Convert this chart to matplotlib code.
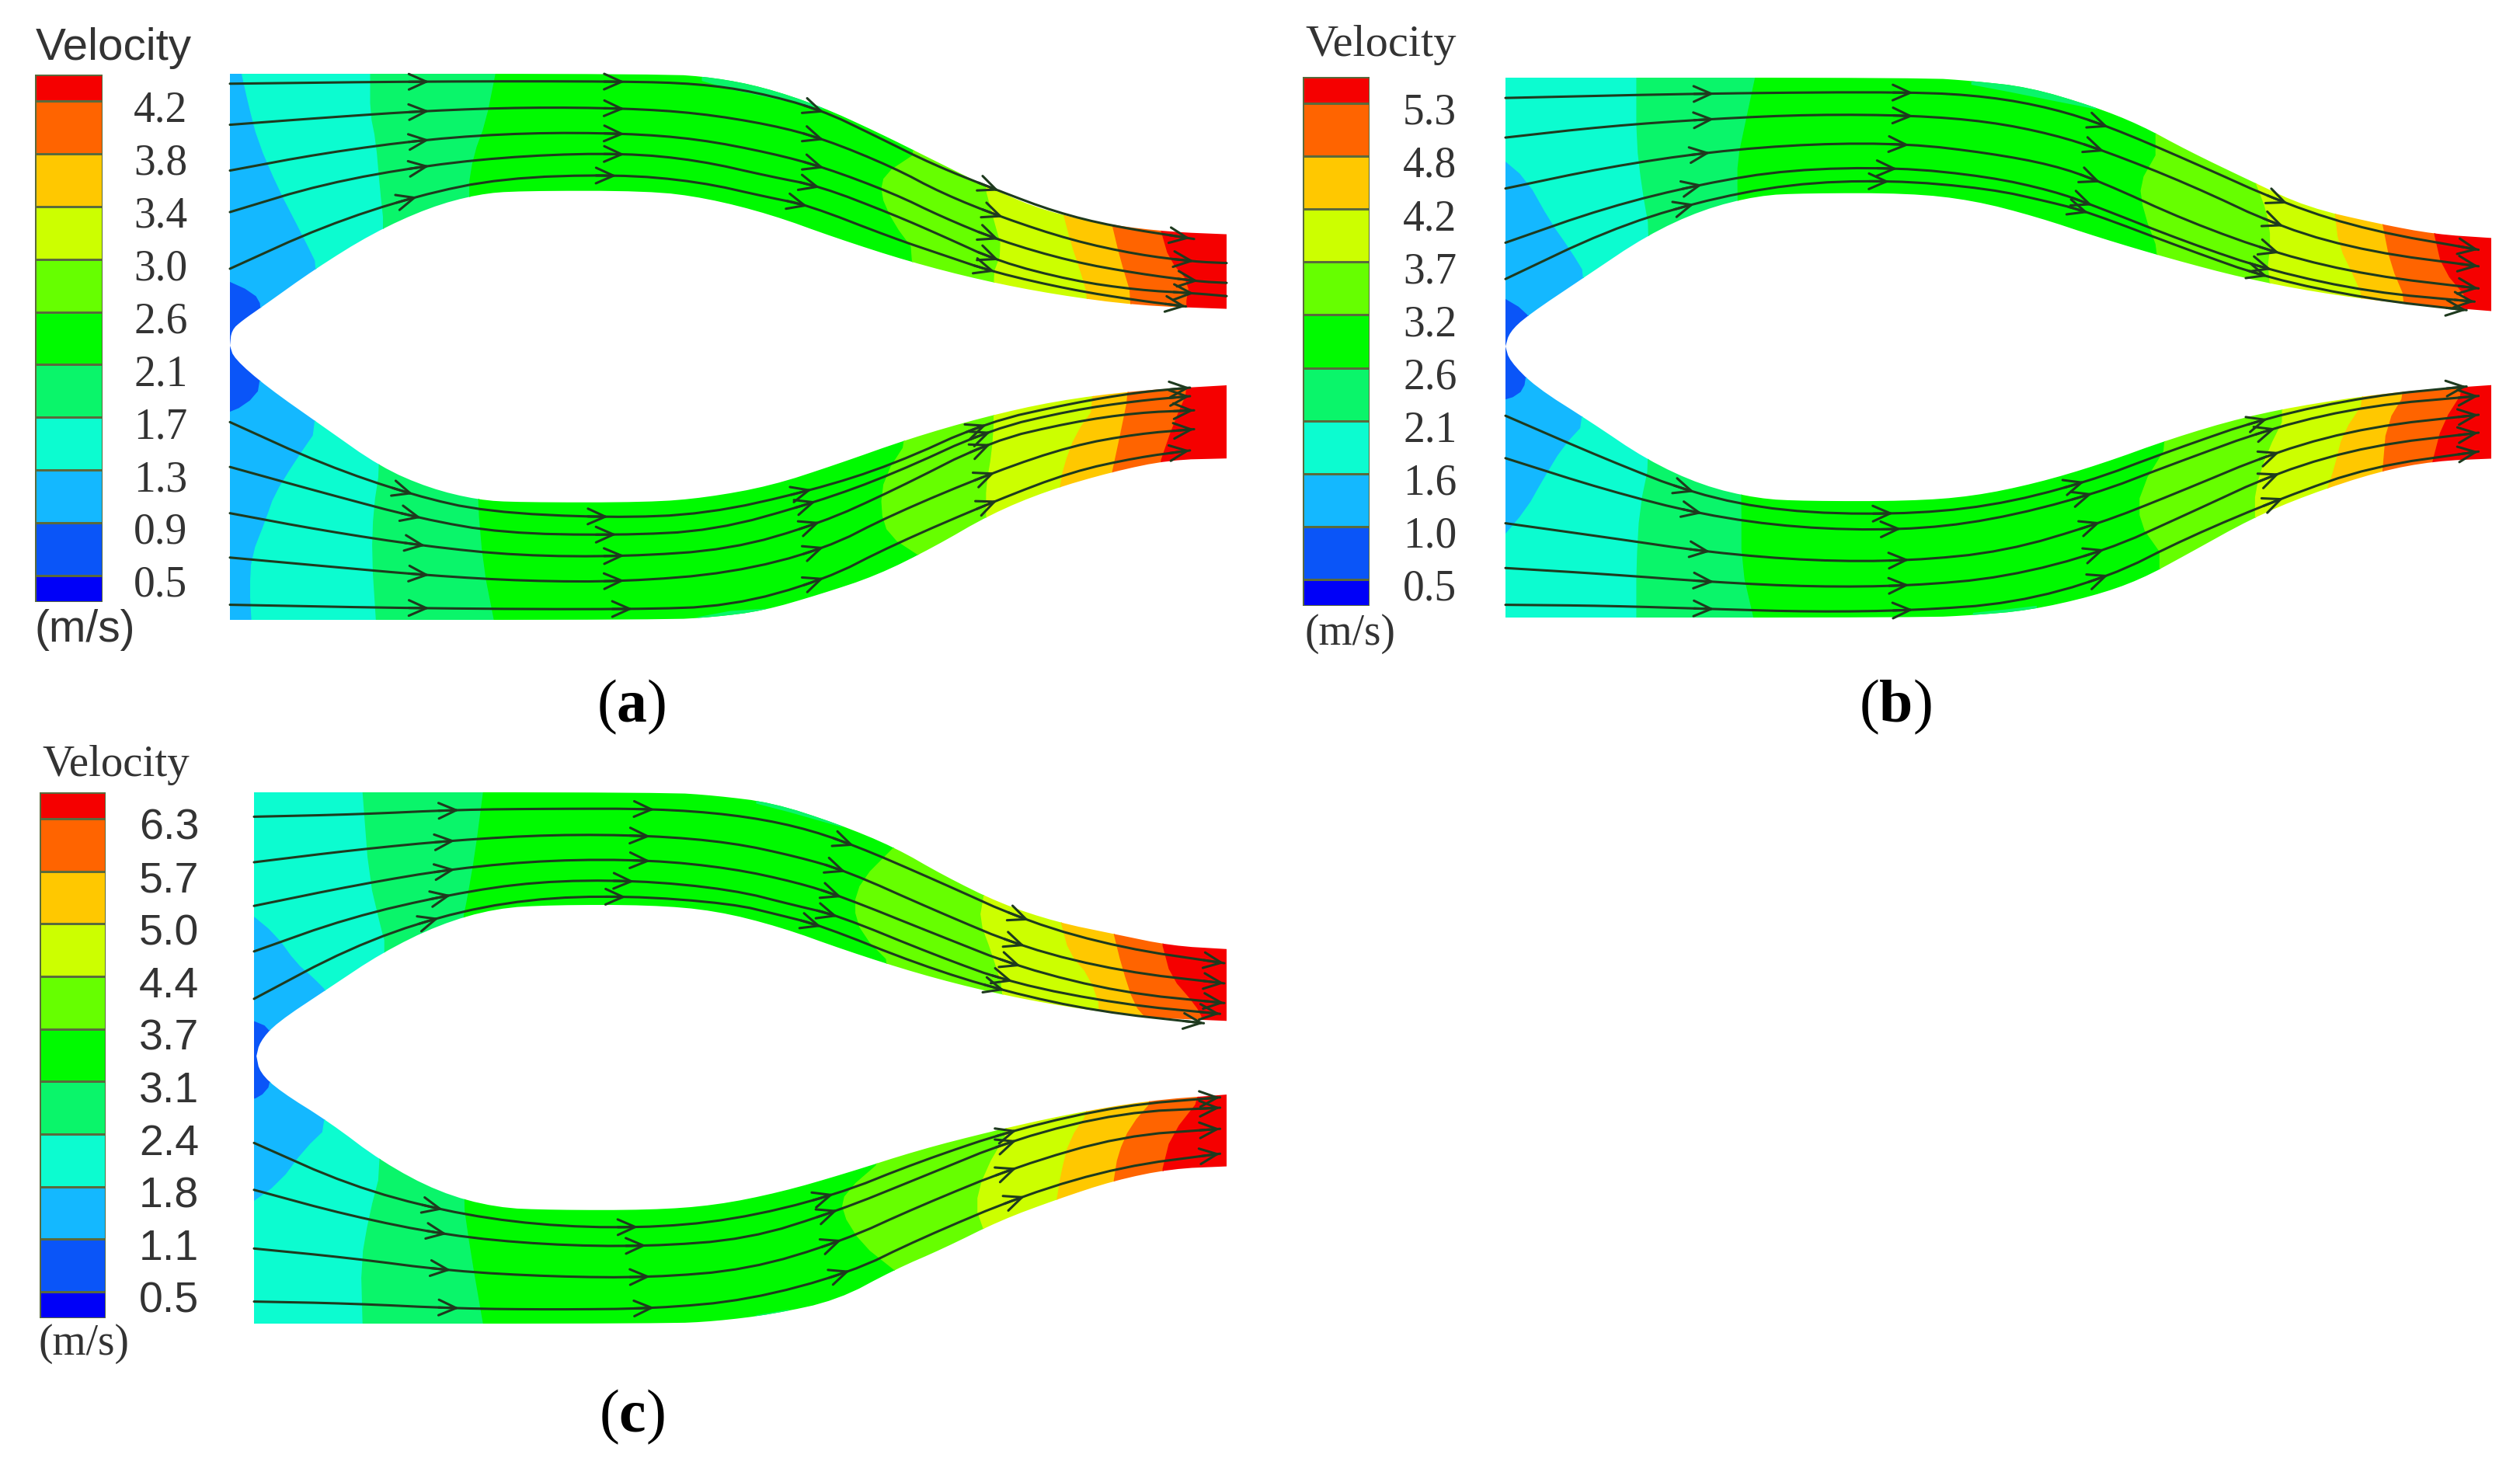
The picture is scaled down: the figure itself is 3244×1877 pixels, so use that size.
#!/usr/bin/env python3

import numpy as np
import matplotlib
matplotlib.use("Agg")
import matplotlib.pyplot as plt
from matplotlib.colors import ListedColormap
from matplotlib.patches import Polygon

W, H = 3244, 1877

plt.rcParams["mathtext.fontset"] = "custom"
plt.rcParams["mathtext.bf"] = "Liberation Serif:bold"
plt.rcParams["mathtext.rm"] = "Liberation Serif"

BAND_COLORS = [
    "#0000f8", "#0a55f8", "#14b8ff", "#0cfcd0", "#0af56a", "#00fa00",
    "#66ff00", "#ccff00", "#ffc800", "#ff6400", "#f50000",
]

A_LEVELS = ["0.5", "0.9", "1.3", "1.7", "2.1", "2.6", "3.0", "3.4", "3.8", "4.2"]
B_LEVELS = ["0.5", "1.0", "1.6", "2.1", "2.6", "3.2", "3.7", "4.2", "4.8", "5.3"]
C_LEVELS = ["0.5", "1.1", "1.8", "2.4", "3.1", "3.7", "4.4", "5.0", "5.7", "6.3"]

# walls: x, y in each panel's own frame (y grows downward)
A_OUTER_TOP = [(285,157),(820,157),(880,165),(940,185),(1010,225),(1080,280),(1150,340),(1220,400),(1290,450),(1370,478),(1440,492),(1510,497)]
A_INNER_TOP = [(285,733),(287,700),(300,680),(325,650),(390,570),(460,495),(530,440),(590,412),(640,405),(800,405),(870,420),(950,455),(1030,505),(1120,555),(1210,595),(1300,625),(1400,648),(1510,655)]
A_INNER_BOT = [(285,733),(290,760),(330,820),(400,905),(470,990),(530,1035),(590,1060),(640,1065),(800,1065),(870,1055),(950,1030),(1030,985),(1120,930),(1210,885),(1300,850),(1400,828),(1510,817)]
A_OUTER_BOT = [(285,1314),(820,1314),(880,1308),(940,1295),(1010,1260),(1080,1220),(1150,1160),(1220,1090),(1290,1040),(1370,1000),(1440,975),(1510,972)]

B_OUTER_TOP = [(293,165),(820,165),(880,172),(950,185),(1030,225),(1090,265),(1150,320),(1230,385),(1300,440),(1390,475),(1460,497),(1531,505)]
B_INNER_TOP = [(293,735),(298,705),(320,670),(395,585),(470,500),(540,445),(610,415),(670,410),(800,410),(880,425),(960,460),(1040,505),(1130,550),(1220,590),(1310,620),(1420,645),(1531,660)]
B_INNER_BOT = [(293,735),(298,765),(330,820),(400,895),(470,975),(540,1030),(610,1058),(670,1063),(800,1063),(880,1053),(960,1025),(1040,985),(1130,930),(1220,885),(1310,855),(1420,830),(1531,817)]
B_OUTER_BOT = [(293,1310),(820,1310),(880,1305),(950,1295),(1030,1265),(1090,1230),(1150,1175),(1230,1100),(1300,1050),(1390,1000),(1460,978),(1531,973)]

C_OUTER_TOP = [(313,148),(820,148),(880,155),(950,170),(1030,215),(1100,265),(1160,325),(1230,385),(1300,425),(1370,450),(1440,475),(1508,482)]
C_INNER_TOP = [(316,710),(320,680),(340,640),(405,565),(470,490),(540,430),(610,395),(680,388),(800,388),(880,400),(960,435),(1040,485),(1130,535),(1220,575),(1310,605),(1410,628),(1508,635)]
C_INNER_BOT = [(316,710),(320,745),(345,785),(405,850),(470,935),(540,1000),(610,1033),(680,1038),(800,1038),(880,1028),(960,1000),(1040,960),(1130,910),(1220,870),(1310,835),(1410,805),(1508,792)]
C_OUTER_BOT = [(313,1280),(820,1280),(880,1275),(950,1260),(1030,1230),(1100,1165),(1160,1120),(1230,1060),(1300,1015),(1370,975),(1440,950),(1508,945)]

# contour lines between neighbouring colour bands, top to bottom of the panel
A_BOUNDS = [
    [(270,585),(315,620),(325,650),(325,820),(305,860),(270,885)],
    [(300,157),(308,220),(320,300),(345,400),(375,500),(395,570),(395,905),(365,980),(340,1050),(330,1100),(312,1180),(310,1250),(312,1314)],
    [(458,157),(458,240),(465,300),(470,400),(475,480),(470,990),(462,1080),(460,1180),(465,1314)],
    [(612,157),(600,260),(585,330),(578,405),(590,1060),(597,1200),(610,1314)],
    [(1125,330),(1090,370),(1085,410),(1100,470),(1130,540),(1120,930),(1090,1010),(1085,1080),(1095,1135),(1135,1180)],
    [(1215,405),(1225,470),(1235,530),(1222,590),(1225,885),(1222,960),(1215,1030),(1215,1090)],
    [(1310,455),(1320,520),(1330,570),(1340,630),(1350,860),(1325,920),(1310,990),(1305,1040)],
    [(1370,478),(1380,550),(1395,635),(1390,835),(1380,920),(1370,1000)],
    [(1430,490),(1440,550),(1465,600),(1460,650),(1465,820),(1445,900),(1430,975)],
]
B_BOUNDS = [
    [(280,620),(320,660),(325,690),(320,810),(310,840),(280,855)],
    [(285,330),(320,380),(350,470),(375,530),(395,585),(395,895),(365,950),(340,1020),(320,1080),(285,1150)],
    [(458,165),(458,300),(465,400),(475,495),(475,975),(462,1080),(458,1200),(458,1310)],
    [(607,165),(595,260),(585,340),(585,410),(590,1060),(590,1200),(605,1310)],
    [(1110,330),(1090,390),(1095,450),(1115,540),(1130,930),(1090,1040),(1090,1110),(1115,1170)],
    [(1235,385),(1250,450),(1255,510),(1250,580),(1275,875),(1250,960),(1235,1040),(1235,1100)],
    [(1335,450),(1340,520),(1360,590),(1370,630),(1375,845),(1345,920),(1335,990),(1325,1040)],
    [(1395,475),(1405,560),(1425,640),(1425,830),(1400,900),(1395,1000)],
    [(1460,497),(1470,570),(1505,640),(1490,655),(1500,820),(1470,900),(1458,978)],
]
C_BOUNDS = [
    [(300,625),(335,650),(335,690),(335,770),(320,800),(300,805)],
    [(305,400),(340,450),(365,510),(385,540),(405,575),(405,860),(375,910),(345,980),(305,1030)],
    [(447,148),(455,330),(470,440),(475,470),(470,950),(455,1050),(445,1150),(447,1280)],
    [(595,148),(585,280),(575,380),(570,420),(570,1010),(580,1130),(595,1280)],
    [(1100,265),(1060,335),(1050,390),(1060,450),(1100,520),(1090,925),(1040,1000),(1035,1040),(1060,1110),(1100,1165)],
    [(1210,370),(1205,420),(1220,490),(1235,575),(1245,855),(1210,960),(1200,1030),(1210,1080)],
    [(1305,425),(1315,490),(1340,540),(1355,615),(1340,825),(1315,890),(1305,960),(1300,1015)],
    [(1370,450),(1380,520),(1395,600),(1410,630),(1420,800),(1390,860),(1375,920),(1370,975)],
    [(1430,475),(1440,540),(1470,600),(1480,632),(1480,792),(1440,880),(1430,950)],
]

# small patches of the 2.1 band that hug the outer wall
A_WALL_PATCHES = [
    [(865,150),(1010,150),(1015,232),(960,212),(900,190),(865,172)],
    [(860,1320),(950,1320),(945,1290),(900,1295),(860,1308)],
]
B_WALL_PATCHES = [
    [(878,155),(1030,155),(1035,232),(975,212),(925,195),(878,180)],
    [(880,1320),(965,1320),(960,1285),(920,1293),(880,1300)],
]
C_WALL_PATCHES = [
    [(930,140),(1030,140),(1035,222),(970,190),(930,172)],
    [(930,1290),(975,1290),(970,1250),(930,1262)],
]

A_STREAMS = [
    [(285,178),(530,173),(770,173),(860,178),(930,195),(1010,232),(1080,290),(1150,350),(1230,405),(1300,450),(1370,480),(1470,507)],
    [(285,265),(400,250),(530,235),(650,228),(770,230),(860,240),(950,265),(1015,295),(1100,355),(1160,410),(1235,462),(1320,510),(1400,540),(1470,555),(1510,558)],
    [(285,362),(400,325),(530,295),(650,282),(770,283),(860,295),(950,325),(1015,355),(1100,410),(1160,460),(1230,510),(1320,555),(1400,580),(1475,597),(1510,600)],
    [(285,450),(400,390),(530,350),(650,330),(770,325),(860,340),(950,375),(1010,395),(1100,455),(1160,500),(1230,555),(1320,595),(1400,615),(1470,622),(1510,628)],
    [(285,570),(400,480),(515,415),(620,378),(760,370),(860,385),(950,420),(995,435),(1100,505),(1160,540),(1225,578),(1320,615),(1400,637),(1460,650)],
    [(285,895),(400,985),(510,1050),(600,1085),(750,1098),(870,1090),(1000,1040),(1100,985),(1215,895),(1320,855),(1400,832),(1465,822)],
    [(285,990),(400,1045),(520,1100),(620,1130),(760,1135),(880,1125),(1005,1065),(1100,1005),(1220,910),(1320,870),(1400,850),(1465,840)],
    [(285,1088),(400,1125),(525,1158),(640,1178),(770,1180),(900,1165),(1010,1110),(1100,1040),(1220,935),(1320,895),(1400,875),(1470,870)],
    [(285,1182),(400,1200),(530,1220),(650,1232),(770,1233),(900,1215),(1015,1165),(1100,1090),(1225,1000),(1320,945),(1400,920),(1470,910)],
    [(285,1282),(530,1290),(780,1292),(900,1285),(1015,1230),(1100,1155),(1228,1060),(1320,1000),(1400,970),(1465,955)],
]
A_ARROWS = [
    [530,770,1015,1230,1465], [530,770,1015,1235,1470], [530,770,1015,1230,1475],
    [530,770,1010,1230,1470], [515,760,995,1225,1460],
    [510,750,1000,1215,1465], [520,760,1005,1220,1465], [525,770,1010,1220,1470],
    [530,770,1015,1225,1470], [530,780,1015,1228,1465],
]

B_STREAMS = [
    [(293,208),(555,198),(805,195),(900,205),(980,230),(1050,268),(1150,340),(1275,435),(1380,490),(1515,530)],
    [(293,292),(420,268),(555,252),(680,243),(805,245),(900,258),(980,285),(1045,320),(1150,390),(1270,485),(1380,535),(1515,565)],
    [(293,400),(420,355),(550,322),(680,305),(800,305),(900,325),(980,350),(1040,385),(1150,470),(1265,540),(1380,585),(1515,612)],
    [(293,515),(420,440),(540,390),(650,360),(785,355),(900,375),(980,405),(1030,435),(1150,515),(1255,575),(1380,620),(1510,640)],
    [(293,592),(420,490),(530,430),(650,390),(775,382),(900,400),(980,430),(1025,450),(1150,530),(1250,590),(1380,635),(1500,658)],
    [(293,882),(420,975),(530,1048),(640,1085),(780,1092),(900,1075),(1020,1025),(1130,955),(1250,885),(1380,840),(1500,820)],
    [(293,972),(420,1040),(540,1092),(660,1120),(790,1125),(900,1105),(1030,1050),(1130,985),(1260,905),(1380,860),(1515,840)],
    [(293,1110),(420,1140),(550,1172),(680,1190),(800,1190),(920,1170),(1040,1110),(1130,1050),(1265,955),(1380,905),(1515,880)],
    [(293,1205),(420,1218),(555,1235),(680,1245),(800,1243),(920,1225),(1045,1170),(1150,1090),(1265,1000),(1380,945),(1515,918)],
    [(293,1283),(420,1285),(555,1292),(680,1298),(805,1295),(930,1280),(1050,1225),(1150,1140),(1270,1055),(1380,990),(1515,958)],
]
B_ARROWS = [
    [555,805,1050,1275,1515], [555,805,1045,1270,1515], [550,800,1040,1265,1515],
    [540,785,1030,1255,1510], [530,775,1025,1250,1500],
    [530,780,1020,1250,1500], [540,790,1030,1260,1515], [550,800,1040,1265,1515],
    [555,800,1045,1265,1515], [555,805,1050,1270,1515],
]

C_STREAMS = [
    [(313,200),(440,195),(565,185),(680,183),(805,183),(900,195),(980,220),(1050,260),(1150,335),(1265,425),(1380,480),(1505,512)],
    [(313,297),(440,270),(560,250),(680,238),(800,240),(900,255),(980,285),(1040,315),(1150,400),(1260,480),(1380,530),(1505,555)],
    [(313,390),(440,345),(560,310),(680,292),(800,292),(900,310),(980,340),(1035,370),(1150,450),(1255,522),(1380,575),(1505,597)],
    [(313,487),(430,415),(555,365),(660,338),(780,335),(900,355),(980,390),(1030,410),(1150,495),(1245,555),(1380,600),(1500,620)],
    [(313,588),(430,480),(540,412),(650,375),(770,368),(900,385),(960,410),(1010,432),(1130,515),(1235,572),(1350,615),(1480,640)],
    [(313,895),(430,985),(545,1040),(660,1070),(785,1077),(900,1060),(1025,1008),(1130,935),(1250,865),(1380,815),(1500,798)],
    [(313,995),(430,1050),(550,1092),(670,1112),(795,1116),(920,1100),(1030,1040),(1130,970),(1250,885),(1380,830),(1500,820)],
    [(313,1120),(430,1140),(555,1168),(680,1180),(800,1182),(920,1165),(1035,1105),(1130,1030),(1250,945),(1380,880),(1500,865)],
    [(313,1233),(430,1237),(565,1248),(680,1250),(805,1248),(920,1230),(1045,1172),(1130,1100),(1260,1005),(1380,945),(1500,918)],
]
C_ARROWS = [
    [565,805,1050,1265,1505], [560,800,1040,1260,1505], [560,800,1035,1255,1505],
    [555,780,1030,1245,1500], [540,770,1010,1235,1480],
    [545,785,1025,1250,1500], [550,795,1030,1250,1500], [555,800,1035,1250,1500],
    [565,805,1045,1260,1500],
]


def px_axes(fig, x0, y0, x1, y1):
    ax = fig.add_axes([x0 / W, 1 - y1 / H, (x1 - x0) / W, (y1 - y0) / H])
    return ax


def smooth(points, passes=2):
    # corner cutting so the read-off polylines do not look angular
    pts = np.asarray(points, dtype=float)
    for _ in range(passes):
        q = 0.75 * pts[:-1] + 0.25 * pts[1:]
        r = 0.25 * pts[:-1] + 0.75 * pts[1:]
        mid = np.empty((2 * len(q), 2))
        mid[0::2] = q
        mid[1::2] = r
        pts = np.vstack([pts[:1], mid, pts[-1:]])
    return pts


def draw_flow(ax, walls, bounds, wall_patches, streams, arrows):
    outer_top, inner_top, inner_bot, outer_bot = [smooth(w) for w in walls]
    outline = np.vstack([outer_top, inner_top[::-1], inner_bot, outer_bot[::-1]])

    x_min, x_max = outline[:, 0].min(), outline[:, 0].max()
    y_min, y_max = outline[:, 1].min(), outline[:, 1].max()
    ax.set_xlim(x_min, x_max)
    ax.set_ylim(y_max, y_min)
    ax.axis("off")

    clip = Polygon(outline, closed=True, fc="none", ec="none")
    ax.add_patch(clip)

    # each contour line is extended straight up and down past the channel
    edges = [[(x_min - 20, y_min - 50), (x_min - 20, y_max + 50)]]
    for b in bounds:
        line = smooth(b, 1)
        edges.append(
            [(line[0, 0], y_min - 50)] + [tuple(p) for p in line] + [(line[-1, 0], y_max + 50)]
        )
    edges.append([(x_max + 20, y_min - 50), (x_max + 20, y_max + 50)])

    for k, color in enumerate(BAND_COLORS[1:]):
        poly = np.array(edges[k] + edges[k + 1][::-1])
        patches = ax.fill(poly[:, 0], poly[:, 1], color=color, lw=1)
        for p in patches:
            p.set_clip_path(clip)

    for patch in wall_patches:
        poly = np.array(patch)
        for p in ax.fill(poly[:, 0], poly[:, 1], color=BAND_COLORS[4], lw=0):
            p.set_clip_path(clip)

    for stream, arrow_x in zip(streams, arrows):
        line = smooth(stream)
        ax.plot(line[:, 0], line[:, 1], color="#1e3a1e", lw=2.2, clip_on=False, solid_capstyle="round")
        for x in arrow_x:
            y = np.interp(x, line[:, 0], line[:, 1])
            y_back = np.interp(x - 25, line[:, 0], line[:, 1])
            ax.annotate(
                "",
                xy=(x, y),
                xytext=(x - 25, y_back),
                annotation_clip=False,
                arrowprops=dict(
                    arrowstyle="->,head_length=0.45,head_width=0.2",
                    color="#1e3a1e",
                    lw=2.2,
                    shrinkA=0,
                    shrinkB=0,
                    mutation_scale=36,
                ),
            )


def draw_colorbar(ax, levels, family, pad):
    y_edges = [0, 0.5, 1.5, 2.5, 3.5, 4.5, 5.5, 6.5, 7.5, 8.5, 9.5, 10]
    cells = np.arange(len(BAND_COLORS)).reshape(-1, 1)
    ax.pcolormesh(
        [0, 1],
        y_edges,
        cells,
        cmap=ListedColormap(BAND_COLORS),
        edgecolors="#5a6a3c",
        linewidth=0.8,
    )
    ax.set_xlim(0, 1)
    ax.set_ylim(0, 10)
    ax.set_xticks([])
    ax.yaxis.tick_right()
    ax.set_yticks([0.40 + i for i in range(len(levels))])
    ax.set_yticklabels(levels, family=family, fontsize=40, color="#333333")
    ax.tick_params(axis="y", length=0, pad=pad)
    for spine in ax.spines.values():
        spine.set_visible(False)


def main():
    fig = plt.figure(figsize=(W / 100, H / 100), dpi=100, facecolor="white")

    # (a)
    ax = px_axes(fig, 296, 95, 1579, 798)
    draw_flow(ax, [A_OUTER_TOP, A_INNER_TOP, A_INNER_BOT, A_OUTER_BOT], A_BOUNDS, A_WALL_PATCHES, A_STREAMS, A_ARROWS)
    ax = px_axes(fig, 45, 96, 132, 775)
    draw_colorbar(ax, A_LEVELS, "Liberation Serif", 29)
    fig.text(146 / W, 1 - 62 / H, "Velocity", family="Liberation Sans", fontsize=42,
             color="#333333", ha="center", va="center")
    fig.text(45 / W, 1 - 811 / H, "(m/s)", family="Liberation Sans", fontsize=41,
             color="#333333", ha="left", va="center")

    # (b)
    ax = px_axes(fig, 1938, 100, 3207, 795)
    draw_flow(ax, [B_OUTER_TOP, B_INNER_TOP, B_INNER_BOT, B_OUTER_BOT], B_BOUNDS, B_WALL_PATCHES, B_STREAMS, B_ARROWS)
    ax = px_axes(fig, 1677, 99, 1763, 780)
    draw_colorbar(ax, B_LEVELS, "Liberation Serif", 31)
    fig.text(1778 / W, 1 - 58 / H, "Velocity", family="Liberation Serif", fontsize=42,
             color="#333333", ha="center", va="center")
    fig.text(1679 / W, 1 - 816 / H, "(m/s)", family="Liberation Serif", fontsize=40,
             color="#333333", ha="left", va="center")

    # (c)
    ax = px_axes(fig, 327, 1020, 1579, 1704)
    draw_flow(ax, [C_OUTER_TOP, C_INNER_TOP, C_INNER_BOT, C_OUTER_BOT], C_BOUNDS, C_WALL_PATCHES, C_STREAMS, C_ARROWS)
    ax = px_axes(fig, 51, 1020, 136, 1697)
    draw_colorbar(ax, C_LEVELS, "Liberation Sans", 31)
    fig.text(149 / W, 1 - 985 / H, "Velocity", family="Liberation Serif", fontsize=41,
             color="#333333", ha="center", va="center")
    fig.text(50 / W, 1 - 1730 / H, "(m/s)", family="Liberation Serif", fontsize=40,
             color="#333333", ha="left", va="center")

    for letter, x, y in [("a", 813, 910), ("b", 2440, 910), ("c", 813, 1824)]:
        fig.text(x / W, 1 - y / H, "($\\mathbf{" + letter + "}$)", family="Liberation Serif",
                 fontsize=56, color="black", ha="center", va="center")

    fig.savefig("out.png", dpi=100)
    plt.close(fig)


if __name__ == "__main__":
    main()
